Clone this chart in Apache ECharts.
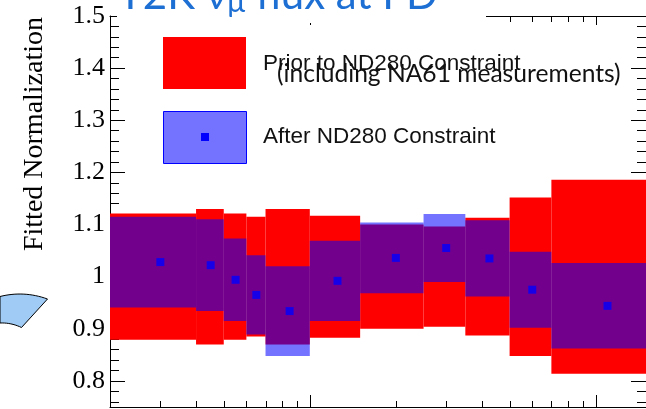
<!DOCTYPE html>
<html><head><meta charset="utf-8">
<script src="https://cdn.jsdelivr.net/npm/echarts@6/dist/echarts.min.js"></script>
<style>html,body{margin:0;padding:0;background:#fff;}#c{width:646px;height:409px;}</style>
</head><body><div id="c"></div>
<script>
// ---- data ----
const binEdges = [0.2, 0.4, 0.5, 0.6, 0.7, 1.0, 1.5, 2.5, 3.5, 5.0, 7.0, 15];
const priorCentral = [1, 1, 1, 1, 1, 1, 1, 1, 1, 1, 1];
const priorError = [0.121, 0.130, 0.121, 0.115, 0.130, 0.117, 0.100, 0.096, 0.113, 0.152, 0.186];
const postCentral = [1.028, 1.022, 0.994, 0.965, 0.934, 0.992, 1.036, 1.055, 1.035, 0.975, 0.944];
const postError = [0.087, 0.088, 0.079, 0.076, 0.086, 0.077, 0.068, 0.065, 0.073, 0.073, 0.082];
const xMajorTicks = [1, 10];
const xMinorTicks = [0.3, 0.4, 0.5, 0.6, 0.7, 0.8, 0.9, 2, 3, 4, 5, 6, 7, 8, 9];
const xRange = [0.2, 15];
const yRange = [0.75, 1.5];
const yTitle = 'Fitted Normalization';
const legendPrior = 'Prior to ND280 Constraint';
const legendPriorSub = '(including NA61 measurements)';
const legendPost = 'After ND280 Constraint';

// ---- build ----
const postFill = 'rgba(0,0,255,0.55)';

const priorData = priorCentral.map((c, i) => [binEdges[i], binEdges[i + 1], c - priorError[i], c + priorError[i]]);
const postData = postCentral.map((c, i) => [binEdges[i], binEdges[i + 1], c - postError[i], c + postError[i]]);
const markerData = postCentral.map((c, i) => [(binEdges[i] + binEdges[i + 1]) / 2, c]);
const tickData = xMajorTicks.map(v => [v, yRange[0], 1]).concat(xMinorTicks.map(v => [v, yRange[0], 0]));

function bandRenderer(fill) {
  return function (params, api) {
    const p0 = api.coord([api.value(0), api.value(3)]);
    const p1 = api.coord([api.value(1), api.value(2)]);
    const cs = params.coordSys;
    const shape = echarts.graphic.clipRectByRect(
      { x: p0[0], y: p0[1], width: p1[0] - p0[0], height: p1[1] - p0[1] },
      { x: cs.x, y: cs.y, width: cs.width, height: cs.height });
    return shape && { type: 'rect', shape: shape, style: { fill: fill } };
  };
}
function tickRenderer(params, api) {
  const v = api.value(0), major = api.value(2);
  const b = api.coord([v, yRange[0]]), t = api.coord([v, yRange[1]]);
  const lb = major ? 12 : 6, lt = major ? 9 : 6;
  const x = Math.round(b[0]) + 0.5;
  return { type: 'group', children: [
    { type: 'line', shape: { x1: x, y1: b[1], x2: x, y2: b[1] - lb }, style: { stroke: '#000', lineWidth: 1 } },
    { type: 'line', shape: { x1: x, y1: t[1], x2: x, y2: t[1] + lt }, style: { stroke: '#000', lineWidth: 1 } }
  ] };
}

const yAxisBase = {
  type: 'value', min: yRange[0], max: yRange[1], splitNumber: 7, minInterval: 0.1, maxInterval: 0.1,
  axisLine: { show: true, lineStyle: { color: '#000', width: 1 } },
  axisTick: { show: true, inside: true, length: 15, lineStyle: { color: '#000' } },
  minorTick: { show: true, splitNumber: 5, length: 9, lineStyle: { color: '#000' } },
  splitLine: { show: false }
};
const xAxisBase = {
  type: 'log', logBase: 10, min: xRange[0], max: xRange[1],
  axisLine: { show: true, lineStyle: { color: '#000', width: 1 } },
  axisTick: { show: false }, axisLabel: { show: false }, splitLine: { show: false }
};

// title layout by measuring text
const mctx = document.createElement('canvas').getContext('2d');
const tFont = '42px Lato', subFont = '30px Lato';
mctx.font = tFont;
const tPart1 = 'T2K ν', tPart2 = 'μ', tPart3 = ' flux at FD';
const w1 = mctx.measureText(tPart1).width;
mctx.font = subFont;
const w2 = mctx.measureText(tPart2).width;
const tx = 118;
const titleColor = '#1d6fd4';

// decoration shape (ring segment) outline points
function quad(p0, c, p1, n) {
  const pts = [];
  for (let i = 0; i <= n; i++) {
    const t = i / n, a = (1 - t) * (1 - t), b = 2 * (1 - t) * t, d = t * t;
    pts.push([a * p0[0] + b * c[0] + d * p1[0], a * p0[1] + b * c[1] + d * p1[1]]);
  }
  return pts;
}
const arcPts = quad([0, 296.5], [24, 290.5], [47.5, 299], 16).concat(quad([21.5, 327.5], [11, 322.5], [0, 323], 10));

const chart = echarts.init(document.getElementById('c'), null, { renderer: 'canvas' });
chart.setOption({
  animation: false,
  backgroundColor: '#fff',
  grid: { left: 110, right: -3, top: 16, bottom: 2, containLabel: false },
  xAxis: [Object.assign({ position: 'bottom' }, xAxisBase), Object.assign({ position: 'top' }, xAxisBase)],
  yAxis: [
    Object.assign({ position: 'left', axisLabel: { show: true, margin: 5, fontFamily: 'Liberation Serif', fontSize: 26, color: '#000',
      formatter: v => Math.abs(v - yRange[0]) < 1e-9 ? '' : String(+v.toFixed(2)) } }, yAxisBase),
    Object.assign({ position: 'right', axisLabel: { show: false } }, yAxisBase)
  ],
  series: [
    { type: 'custom', name: legendPrior, data: priorData, encode: { x: [0, 1], y: [2, 3] }, renderItem: bandRenderer('#ff0000'), z: 1 },
    { type: 'custom', name: legendPost, data: postData, encode: { x: [0, 1], y: [2, 3] }, renderItem: bandRenderer(postFill), z: 2 },
    { type: 'scatter', data: markerData, symbol: 'rect', symbolSize: 8, itemStyle: { color: '#0000ff' }, z: 3 },
    { type: 'custom', data: tickData, encode: { x: 0, y: 1 }, renderItem: tickRenderer, z: 4 }
  ],
  graphic: [
    // legend
    { type: 'rect', shape: { x: 163, y: 37, width: 83, height: 52 }, style: { fill: '#ff0000' }, z: 10 },
    { type: 'rect', shape: { x: 163.5, y: 111.5, width: 83, height: 52 }, style: { fill: postFill, stroke: '#0000ff', lineWidth: 1 }, z: 10 },
    { type: 'rect', shape: { x: 201, y: 133, width: 8, height: 8 }, style: { fill: '#0000ff' }, z: 11 },
    { type: 'text', x: 263, y: 63.8, style: { text: legendPrior, font: '22.5px "Liberation Sans"', fill: '#111', textAlign: 'left', textVerticalAlign: 'middle' }, z: 10 },
    { type: 'text', x: 277, y: 73.8, style: { text: legendPriorSub, font: '24.6px Lato', fill: '#111', textAlign: 'left', textVerticalAlign: 'middle' }, z: 10 },
    { type: 'text', x: 263, y: 137, style: { text: legendPost, font: '22.5px "Liberation Sans"', fill: '#111', textAlign: 'left', textVerticalAlign: 'middle' }, z: 10 },
    // y title
    { type: 'text', x: 34.5, y: 134, rotation: Math.PI / 2, style: { text: yTitle, font: '28px "Liberation Serif"', fill: '#000', textAlign: 'center', textVerticalAlign: 'middle' }, z: 10 },
    // slide title box (covers top frame)
    { type: 'rect', shape: { x: 117, y: 0, width: 369, height: 23 }, style: { fill: '#fff' }, z: 20 },
    { type: 'text', x: tx, y: -4.3, style: { text: tPart1, font: tFont, fill: titleColor, textAlign: 'left', textVerticalAlign: 'middle' }, z: 21 },
    { type: 'text', x: tx + w1, y: 2.4, style: { text: tPart2, font: subFont, fill: titleColor, textAlign: 'left', textVerticalAlign: 'middle' }, z: 21 },
    { type: 'text', x: tx + w1 + w2, y: -4.3, style: { text: tPart3, font: tFont, fill: titleColor, textAlign: 'left', textVerticalAlign: 'middle' }, z: 21 },
    // slide decoration
    { type: 'polygon', shape: { points: arcPts }, style: { fill: '#9fcbf5', stroke: '#000', lineWidth: 1 }, z: 20 }
  ]
});
</script></body></html>
